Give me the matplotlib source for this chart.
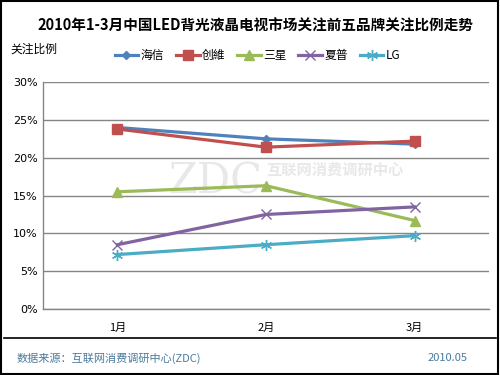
import matplotlib
matplotlib.use("Agg")
import matplotlib.pyplot as plt
from matplotlib.lines import Line2D
from matplotlib.patches import Rectangle

plt.rcParams['font.family'] = ['Noto Sans CJK SC', 'DejaVu Sans']

months = ["1月", "2月", "3月"]
hisense = [24.0, 22.5, 21.8]
skyworth = [23.8, 21.4, 22.2]
samsung = [15.5, 16.3, 11.7]
sharp = [8.5, 12.5, 13.5]
lg = [7.2, 8.5, 9.7]
series_names = ["海信", "创維", "三星", "夏普", "LG"]
yticks = [0, 5, 10, 15, 20, 25, 30]

colors = ["#4F81BD", "#C0504D", "#9BBB59", "#8064A2", "#4BACC6"]
markers = ["D", "s", "^", "x", (6, 2, 0)]
msizes = [4, 7, 7, 7, 8]

fig = plt.figure(figsize=(5, 3.75), dpi=100)
ax = fig.add_axes([0.086, 0.176, 0.892, 0.605])

x = list(range(len(months)))
for name, vals, c, m, ms in zip(series_names, [hisense, skyworth, samsung, sharp, lg], colors, markers, msizes):
    ax.plot(x, vals, color=c, lw=2.3, marker=m, markersize=ms, markeredgecolor=c,
            markerfacecolor=c, markeredgewidth=1.0, label=name, zorder=3)

ax.set_xlim(-0.5, 2.5)
ax.set_ylim(0, 30)
ax.set_yticks(yticks)
ax.set_yticklabels([f"{v}%" for v in yticks], fontsize=8, family=['DejaVu Sans'])
ax.set_xticks(x)
ax.set_xticklabels(months, fontsize=8)
ax.yaxis.grid(True, color="#868686", lw=1.0, zorder=0)
ax.tick_params(axis='y', length=0, pad=4)
ax.tick_params(axis='x', length=0, pad=10)
for s in ["top", "right"]:
    ax.spines[s].set_visible(False)
for s in ["left", "bottom"]:
    ax.spines[s].set_color("#868686")
    ax.spines[s].set_linewidth(1.0)

# watermark
ax.text(0.385, 0.56, "ZDC", transform=ax.transAxes, fontsize=30, family=['DejaVu Serif'],
        color="#e8e8e8", ha="center", va="center", zorder=1)
ax.text(0.50, 0.615, "互联网消费调研中心", transform=ax.transAxes, fontsize=11,
        color="#e8e8e8", ha="left", va="center", zorder=1, fontweight='bold')

fig.text(0.51, 0.932, "2010年1-3月中国LED背光液晶电视市场关注前五品牌关注比例走势",
         ha="center", va="center", fontsize=10.5, fontweight="bold")
fig.text(0.02, 0.868, "关注比例", ha="left", va="center", fontsize=8.5)

handles = [Line2D([0], [0], color=c, lw=2.3, marker=m, markersize=ms, markerfacecolor=c,
                  markeredgecolor=c) for c, m, ms in zip(colors, markers, msizes)]
fig.legend(handles, series_names, loc="center", bbox_to_anchor=(0.515, 0.852), ncol=5,
           frameon=False, fontsize=8.5, handlelength=2.0, handletextpad=0.2, columnspacing=1.0)

fig.add_artist(Line2D([0.008, 0.992], [0.099, 0.099], color="black", lw=1.2))
fig.text(0.034, 0.045, "数据来源：互联网消费调研中心(ZDC)", ha="left", va="center",
         fontsize=8, color="#4A7B9D")
fig.text(0.935, 0.045, "2010.05", ha="right", va="center", fontsize=8, color="#4A7B9D")

fig.add_artist(Rectangle((0.002, 0.003), 0.994, 0.994, transform=fig.transFigure,
                         fill=False, edgecolor="black", lw=1.5))

fig.savefig("out.png", dpi=100)
